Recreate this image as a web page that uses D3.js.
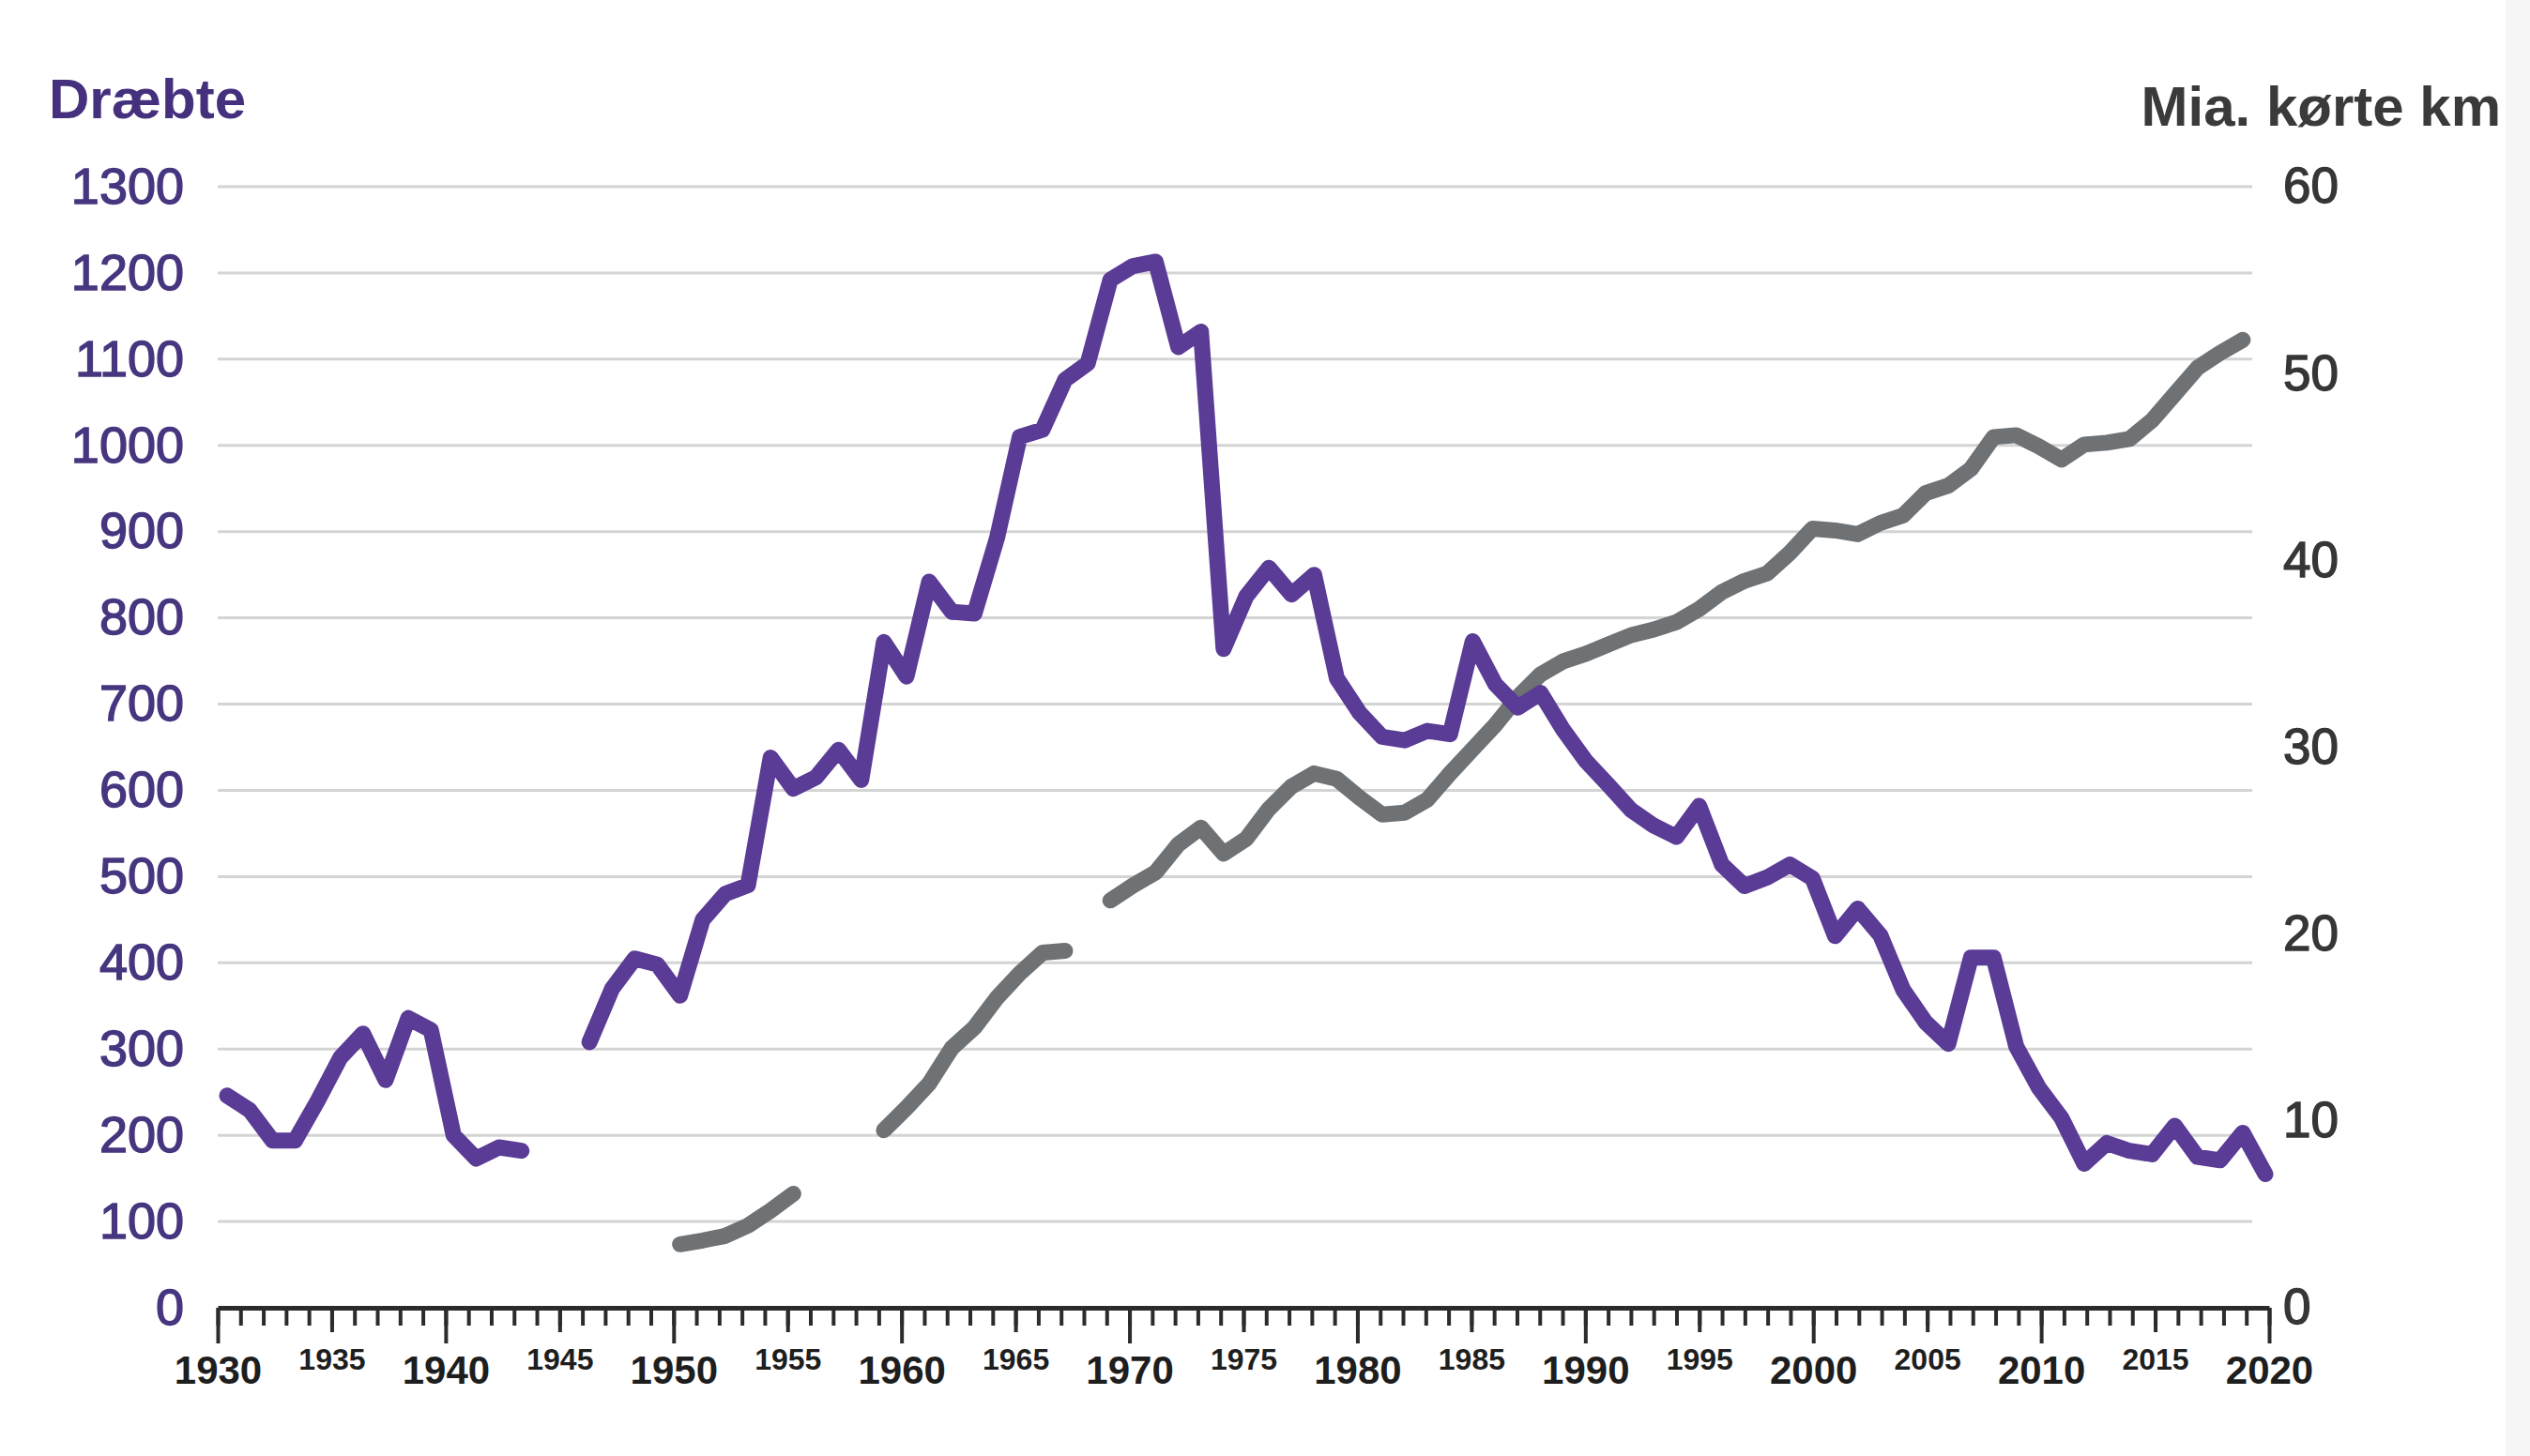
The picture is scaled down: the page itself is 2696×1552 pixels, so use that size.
<!DOCTYPE html>
<html lang="da">
<head>
  <meta charset="UTF-8">
  <title>Dræbte og kørte km</title>
  <script src="https://d3js.org/d3.v7.min.js"></script>
  <style>
    body {
      margin: 0;
      background: #fff;
      font-family: "Liberation Sans", Arial, Helvetica, sans-serif;
    }

    .grid line {
      stroke: #d4d4d4;
      stroke-width: 3px;
    }

    .series {
      fill: none;
      stroke-width: 17px;
      stroke-linejoin: round;
      stroke-linecap: round;
    }

    .axis-x .domain {
      stroke: #2b2b2b;
      stroke-width: 5px;
    }

    .axis-x .tick line {
      stroke: #2b2b2b;
      stroke-width: 4px;
    }

    .axis-x text {
      fill: #1e1e1e;
      font-weight: bold;
    }

    /* lidt federe tal på y-akserne */
    .axis-y text {
      paint-order: stroke;
      stroke-width: 1.4px;
    }
  </style>
</head>
<body>
  <svg width="2696" height="1552"></svg>
  <script>
    // år 1930-2020
    const years = d3.range(1930, 2021);

    // dræbte pr. år (null = ingen data)
    const killed = [
      246, 229, 194, 194, 240, 290, 318, 264, 336, 322,   // 1930-39
      200, 173, 186, 182, null, null, 308, 370, 405, 398, // 1940-49
      362, 450, 480, 490, 638, 602, 615, 647, 612, 772,   // 1950-59
      732, 842, 807, 805, 893, 1010, 1018, 1076, 1095, 1192, // 1960-69
      1208, 1213, 1114, 1132, 764, 825, 858, 827, 850, 730,  // 1970-79
      690, 662, 658, 669, 665, 773, 723, 696, 713, 670,   // 1980-89
      634, 606, 577, 559, 546, 582, 514, 489, 499, 514,   // 1990-99
      498, 431, 463, 432, 369, 331, 306, 406, 406, 303,   // 2000-09
      255, 220, 167, 191, 182, 178, 211, 175, 171, 203,   // 2010-19
      155                                                 // 2020
    ];

    // mia. kørte km pr. år
    const vehicleKm = [
      null, null, null, null, null, null, null, null, null, null, // 1930-39
      null, null, null, null, null, null, null, null, null, null, // 1940-49
      3.4, 3.6, 3.85, 4.4, 5.2, 6.1, null, null, null, 9.5,        // 1950-59
      10.7, 12.0, 13.9, 15.0, 16.6, 17.9, 19.0, 19.1, null, 21.8,  // 1960-69
      22.6, 23.3, 24.8, 25.7, 24.3, 25.1, 26.7, 27.9, 28.6, 28.3,  // 1970-79
      27.3, 26.4, 26.5, 27.2, 28.6, 29.9, 31.2, 32.7, 33.9, 34.6,  // 1980-89
      35.0, 35.5, 36.0, 36.3, 36.7, 37.4, 38.3, 38.9, 39.3, 40.4,  // 1990-99
      41.7, 41.6, 41.4, 42.0, 42.4, 43.6, 44.0, 44.9, 46.6, 46.7,  // 2000-09
      46.1, 45.4, 46.2, 46.3, 46.5, 47.5, 48.9, 50.3, 51.1, 51.8,  // 2010-19
      null                                                         // 2020
    ];

    const leftTicks = [0, 100, 200, 300, 400, 500, 600, 700, 800, 900, 1000, 1100, 1200, 1300];
    const rightTicks = [0, 10, 20, 30, 40, 50, 60];
    const decadeLabels = [1930, 1940, 1950, 1960, 1970, 1980, 1990, 2000, 2010, 2020];
    const fiveLabels = [1935, 1945, 1955, 1965, 1975, 1985, 1995, 2005, 2015];

    const purple = "#5a3b95";
    const grey = "#6f7275";

    const svg = d3.select("svg");

    // tick-linealen og datapunkterne ligger ikke helt oven i hinanden i originalen
    const xAxis = d3.scaleLinear().domain([1930, 2020]).range([232, 2418]);
    const x = d3.scaleLinear().domain([1930, 2020]).range([242, 2414]);
    const yLeft = d3.scaleLinear().domain([0, 1300]).range([1394, 199]);
    const yRight = d3.scaleLinear().domain([0, 60]).range([1394, 199]);

    // lille grå kant til højre
    svg.append("rect")
      .attr("x", 2670).attr("y", 0)
      .attr("width", 26).attr("height", 1552)
      .attr("fill", "#f6f6f6");

    // vandrette hjælpelinjer
    svg.append("g")
      .attr("class", "grid")
      .selectAll("line")
      .data(leftTicks.filter(v => v > 0))
      .enter()
      .append("line")
      .attr("x1", 232)
      .attr("x2", 2400)
      .attr("y1", d => yLeft(d))
      .attr("y2", d => yLeft(d));

    // venstre akse (dræbte)
    svg.append("g")
      .attr("class", "axis-y")
      .attr("transform", "translate(232,0)")
      .call(d3.axisLeft(yLeft).tickValues(leftTicks).tickSize(0).tickPadding(36).tickFormat(d3.format("d")))
      .call(g => g.select(".domain").remove())
      .selectAll("text")
      .attr("fill", "#47367f")
      .attr("stroke", "#47367f")
      .style("font-size", "54px");

    // højre akse (mia. km)
    svg.append("g")
      .attr("class", "axis-y")
      .attr("transform", "translate(2418,0)")
      .call(d3.axisRight(yRight).tickValues(rightTicks).tickSize(0).tickPadding(15))
      .call(g => g.select(".domain").remove())
      .selectAll("text")
      .attr("fill", "#363636")
      .attr("stroke", "#363636")
      .style("font-size", "53px");

    // x-akse: små streger hvert år, mellem ved 5 år, lange ved 10 år
    const base = svg.append("g")
      .attr("class", "axis-x")
      .attr("transform", "translate(0,1394)");

    base.append("g")
      .call(d3.axisBottom(xAxis).tickValues(years).tickSize(19).tickSizeOuter(0).tickFormat(""))
      .call(g => g.select(".domain").remove());

    base.append("g")
      .call(d3.axisBottom(xAxis).tickValues(fiveLabels).tickSize(26).tickPadding(17).tickFormat(d3.format("d")))
      .call(g => g.select(".domain").remove())
      .selectAll("text")
      .style("font-size", "32px");

    base.append("g")
      .call(d3.axisBottom(xAxis).tickValues(decadeLabels).tickSize(38).tickSizeOuter(0).tickPadding(13).tickFormat(d3.format("d")))
      .selectAll("text")
      .style("font-size", "42px");

    // linjer
    const kmLine = d3.line()
      .defined(d => d.v != null)
      .x(d => x(d.year))
      .y(d => yRight(d.v));

    const killedLine = d3.line()
      .defined(d => d.v != null)
      .x(d => x(d.year))
      .y(d => yLeft(d.v));

    svg.append("path")
      .attr("class", "series")
      .attr("stroke", grey)
      .attr("d", kmLine(years.map((year, i) => ({ year, v: vehicleKm[i] }))));

    svg.append("path")
      .attr("class", "series")
      .attr("stroke", purple)
      .attr("d", killedLine(years.map((year, i) => ({ year, v: killed[i] }))));

    // aksetitler
    svg.append("text")
      .attr("x", 52)
      .attr("y", 126)
      .attr("fill", "#45307d")
      .style("font-size", "60px")
      .style("font-weight", "bold")
      .text("Dræbte");

    svg.append("text")
      .attr("x", 2665)
      .attr("y", 134)
      .attr("text-anchor", "end")
      .attr("fill", "#3a3a3a")
      .style("font-size", "60px")
      .style("font-weight", "bold")
      .text("Mia. kørte km");
  </script>
</body>
</html>
